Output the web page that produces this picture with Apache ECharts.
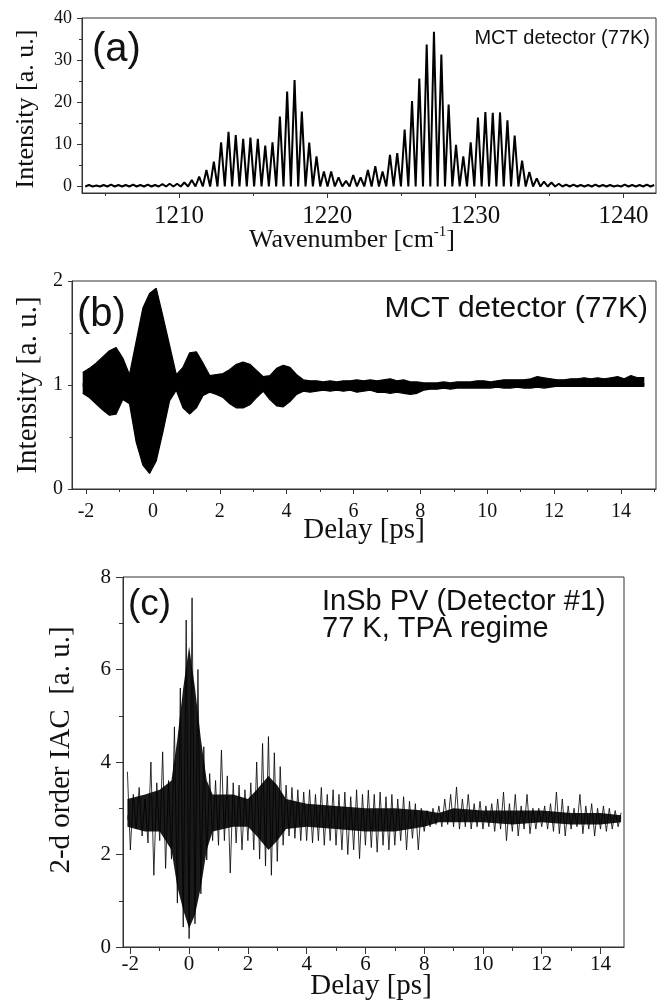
<!DOCTYPE html>
<html>
<head>
<meta charset="utf-8">
<script src="https://cdn.jsdelivr.net/npm/echarts@6/dist/echarts.min.js"></script>
<style>html,body{margin:0;padding:0;background:#fff}#c{width:663px;height:1008px}</style>
</head>
<body>
<div id="c"></div>
<script>
// ---------- Panel (a): spectrum comb (peak wavenumbers and peak heights) ----------
const peakWavenumbers = [
  1203.92,1204.42,1204.91,1205.41,1205.91,1206.40,1206.90,1207.39,1207.89,1208.38,1208.88,1209.37,1209.87,1210.36,
  1210.86,1211.36,1211.85,1212.35,1212.84,1213.34,1213.83,1214.33,1214.82,1215.32,1215.82,1216.31,1216.81,1217.30,
  1217.80,1218.29,1218.79,1219.28,1219.78,1220.27,1220.77,1221.27,1221.76,1222.26,1222.75,1223.25,1223.74,1224.24,
  1224.73,1225.23,1225.73,1226.22,1226.72,1227.21,1227.71,1228.20,1228.70,1229.19,1229.69,1230.18,1230.68,1231.18,
  1231.67,1232.17,1232.66,1233.16,1233.65,1234.15,1234.64,1235.14,1235.64,1236.13,1236.63,1237.12,1237.62,1238.11,
  1238.61,1239.10,1239.60,1240.09,1240.59,1241.09,1241.58,1242.08
];
const peakHeights = [
  0.2,0.1,0.2,0.3,0.2,0.2,0.3,0.2,0.3,0.2,0.4,0.5,0.5,0.8,
  1.4,2.2,3.8,5.8,10.4,12.9,12.1,11.2,11.5,11.2,9.6,10.4,16.5,22.5,25.2,17.7,10.3,7.0,3.4,3.4,
  2.0,1.2,2.6,2.0,3.8,4.7,3.4,7.4,7.8,13.4,20.2,25.6,33.7,36.7,31.3,19.4,9.8,7.0,10.4,16.3,17.6,17.4,17.5,15.6,12.0,6.0,3.3,1.8,1.0,0.8,
  0.5,0.3,0.3,0.2,0.2,0.3,0.2,0.2,0.1,0.3,0.2,0.2,0.3,0.2
];
const troughLevel = -0.15;
const aXTicks = [1210,1220,1230,1240], aXMinor = [1205,1215,1225,1235];
const aYTicks = [0,10,20,30,40], aYMinor = [5,15,25,35];

// ---------- Panel (b): interferogram envelope, read every 0.2 ps from -2.1 ps ----------
const bEnvStart = -2.1, bEnvStep = 0.2;
const bUpper = [
  1.12,1.16,1.21,1.27,1.33, 1.36,1.26,1.10,1.42,1.74, 1.88,1.93,1.66,1.38,1.10,
  1.17,1.31,1.32,1.21,1.09, 1.10,1.11,1.15,1.20,1.22, 1.20,1.14,1.08,1.09,1.16,
  1.19,1.17,1.10,1.05,1.04, 1.04,1.03,1.04,1.03,1.04, 1.04,1.05,1.04,1.05,1.04,
  1.05,1.06,1.04,1.05,1.03, 1.03,1.02,1.02,1.02,1.03, 1.02,1.03,1.03,1.03,1.04,
  1.04,1.03,1.04,1.05,1.05, 1.05,1.05,1.06,1.08,1.07, 1.06,1.05,1.05,1.06,1.06,
  1.07,1.06,1.07,1.06,1.07, 1.08,1.06,1.09,1.07,1.07
];
const bLower = [
  0.92,0.88,0.82,0.76,0.71, 0.72,0.86,0.82,0.45,0.23, 0.15,0.27,0.55,0.85,0.95,
  0.78,0.72,0.78,0.90,0.93, 0.91,0.88,0.82,0.78,0.78, 0.81,0.88,0.94,0.86,0.80,
  0.79,0.84,0.91,0.94,0.93, 0.94,0.95,0.94,0.95,0.94, 0.95,0.93,0.94,0.95,0.93,
  0.93,0.92,0.93,0.92,0.91, 0.92,0.95,0.96,0.96,0.97, 0.96,0.97,0.97,0.97,0.97,
  0.97,0.97,0.98,0.97,0.97, 0.98,0.97,0.97,0.98,0.97, 0.98,0.99,0.99,0.99,0.99,
  0.99,1.00,0.99,0.99,1.00, 1.00,0.99,1.00,1.00,1.00
];
const bXTicks = [-2,0,2,4,6,8,10,12,14], bXMinor = [-1,1,3,5,7,9,11,13,15];
const bYTicks = [0,1,2], bYMinor = [0.5,1.5];

// ---------- Panel (c): 2nd-order IAC, alternating crest/trough read every 0.1 ps ----------
const cStart = -2.1, cStep = 0.1;
const cSignal = [
  3.79,2.10,3.30,2.55,3.45,2.40,3.20,2.25,4.00,1.55,
  3.55,2.30,4.22,1.70,3.60,1.90,4.76,0.95,5.60,0.43,
  7.07,0.18,7.55,0.50,6.00,1.15,4.33,1.88,3.75,2.30,
  3.60,2.20,4.26,2.30,3.70,1.60,3.55,2.25,3.50,2.10,
  3.40,2.30,3.55,2.10,4.00,1.90,4.40,1.75,4.55,1.55,
  4.20,1.85,3.90,2.20,3.50,2.40,3.45,2.35,3.40,2.30,
  3.35,2.30,3.40,2.25,3.30,2.30,3.45,2.20,3.30,2.30,
  3.40,2.20,3.30,2.10,3.35,2.00,3.25,2.10,3.40,1.91,
  3.30,2.20,3.39,2.15,3.30,2.05,3.35,2.20,3.25,2.10,
  3.30,2.20,3.20,2.30,3.25,2.10,3.15,2.35,3.10,2.10,
  3.00,2.50,2.95,2.60,3.00,2.65,3.05,2.60,3.20,2.65,
  3.30,2.60,3.46,2.55,3.20,2.60,3.30,2.55,3.10,2.60,
  3.15,2.55,3.05,2.60,3.10,2.50,3.20,2.55,3.35,2.30,
  3.10,2.50,3.30,2.40,3.05,2.55,3.30,2.45,3.00,2.55,
  3.00,2.60,3.05,2.55,3.10,2.50,3.35,2.45,3.20,2.40,
  3.05,2.55,3.00,2.60,3.30,2.45,3.05,2.55,3.10,2.40,
  3.00,2.55,3.05,2.50,3.00,2.55,2.95,2.60,2.90
];
// dense dark core of the IAC trace
const cCoreDelays = [-2.1,-1.5,-1.0,-0.6,-0.4,-0.2,0,0.2,0.4,0.6,0.8,1.5,2.0,2.3,2.7,3.0,3.3,4,5,6,7,8,8.5,9,10,11,12,13,14,14.7];
const cCoreUpper  = [3.2,3.3,3.4,3.6,4.5,5.6,6.5,5.6,4.5,3.6,3.3,3.3,3.2,3.4,3.7,3.5,3.2,3.1,3.05,3.0,3.0,2.95,2.9,3.0,2.95,2.95,2.95,2.9,2.9,2.85];
const cCoreLower  = [2.6,2.5,2.5,2.1,1.3,0.8,0.4,0.7,1.3,2.1,2.5,2.6,2.6,2.4,2.1,2.3,2.55,2.6,2.55,2.5,2.5,2.6,2.7,2.7,2.7,2.65,2.7,2.65,2.65,2.7];
const cXTicks = [-2,0,2,4,6,8,10,12,14], cXMinor = [-1,1,3,5,7,9,11,13];
const cYTicks = [0,2,4,6,8], cYMinor = [1,3,5,7];

// fill origins (slightly overlapping so the two halves of each band join without a seam)
const bUpperOrigin = 0.98, bLowerOrigin = 1.02;
const cUpperOrigin = 2.75, cLowerOrigin = 2.85;

// ---------- build series data ----------
const aData = [];
peakWavenumbers.forEach((w, i) => {
  if (i === 0) aData.push([w - (peakWavenumbers[1] - w) / 2, troughLevel]);
  aData.push([w, peakHeights[i]]);
  if (i < peakWavenumbers.length - 1) aData.push([(w + peakWavenumbers[i + 1]) / 2, troughLevel]);
});
const bT = bUpper.map((_, j) => +(bEnvStart + bEnvStep * j).toFixed(2));
const bUpData = bUpper.map((v, j) => [bT[j], v]);
const bLowData = bLower.map((v, j) => [bT[j], v]);
const cT = cSignal.map((_, k) => +(cStart + cStep * k).toFixed(2));
const cData = cSignal.map((v, k) => [cT[k], v]);
const cCoreUpData = cCoreUpper.map((v, j) => [cCoreDelays[j], v]);
const cCoreLowData = cCoreLower.map((v, j) => [cCoreDelays[j], v]);

const SERIF = 'Liberation Serif';
const AX = '#333';
const fmt = v => String(v);

function xAxes(g, min, max, major, minor, fs, margin, lenMaj, lenMin) {
  return [
    { type: 'value', gridIndex: g, min, max, position: 'bottom', z: 5,
      axisLine: { show: true, onZero: false, lineStyle: { color: AX, width: 1 } },
      axisTick: { show: true, customValues: major, length: lenMaj, lineStyle: { color: AX } },
      axisLabel: { customValues: major, formatter: fmt, fontSize: fs, margin, color: '#111', fontFamily: SERIF },
      splitLine: { show: false } },
    { type: 'value', gridIndex: g, min, max, position: 'bottom', offset: 0, z: 5,
      axisLine: { show: false, onZero: false },
      axisTick: { show: true, customValues: minor, length: lenMin, lineStyle: { color: AX } },
      axisLabel: { show: false }, splitLine: { show: false } }
  ];
}
function yAxes(g, min, max, major, minor, fs, margin, lenMaj, lenMin) {
  return [
    { type: 'value', gridIndex: g, min, max, position: 'left', z: 5,
      axisLine: { show: true, onZero: false, lineStyle: { color: AX, width: 1 } },
      axisTick: { show: true, customValues: major, length: lenMaj, lineStyle: { color: AX } },
      axisLabel: { customValues: major, formatter: fmt, fontSize: fs, margin, color: '#111', fontFamily: SERIF },
      splitLine: { show: false } },
    { type: 'value', gridIndex: g, min, max, position: 'left', offset: 0, z: 5,
      axisLine: { show: false, onZero: false },
      axisTick: { show: true, customValues: minor, length: lenMin, lineStyle: { color: AX } },
      axisLabel: { show: false }, splitLine: { show: false } }
  ];
}

function txt(x, y, text, font, align, rot) {
  return { type: 'text', x, y, rotation: rot || 0, silent: true, z: 10,
    style: { text, font, fill: '#111', textAlign: align || 'center', textVerticalAlign: 'middle' } };
}

const chart = echarts.init(document.getElementById('c'), null, { renderer: 'canvas' });
chart.setOption({
  animation: false,
  backgroundColor: '#fff',
  grid: [
    { left: 82, top: 18, width: 574, height: 175, show: true, borderColor: AX, borderWidth: 1 },
    { left: 72, top: 281, width: 584, height: 208, show: true, borderColor: AX, borderWidth: 1 },
    { left: 123, top: 577, width: 501, height: 370, show: true, borderColor: AX, borderWidth: 1 }
  ],
  xAxis: [
    ...xAxes(0, 1203.45, 1242.2, aXTicks, aXMinor, 25, 11, 5, 3),
    ...xAxes(1, -2.42, 15.05, bXTicks, bXMinor, 20, 13, 5, 3),
    ...xAxes(2, -2.25, 14.8, cXTicks, cXMinor, 21, 7, 7, 4)
  ],
  yAxis: [
    ...yAxes(0, -1.7, 40, aYTicks, aYMinor, 18, 10, 5, 3),
    ...yAxes(1, 0, 2, bYTicks, bYMinor, 20, 9, 4, 2.5),
    ...yAxes(2, 0, 8, cYTicks, cYMinor, 21, 12, 7, 4)
  ],
  series: [
    { type: 'line', xAxisIndex: 0, yAxisIndex: 0, data: aData, showSymbol: false, silent: true,
      lineStyle: { color: '#000', width: 2 } },
    // (b): envelope filled towards the baseline from both sides
    { type: 'line', xAxisIndex: 2, yAxisIndex: 2, data: bUpData, showSymbol: false, silent: true,
      lineStyle: { color: '#000', width: 1.2 }, areaStyle: { color: '#000', opacity: 1, origin: bUpperOrigin } },
    { type: 'line', xAxisIndex: 2, yAxisIndex: 2, data: bLowData, showSymbol: false, silent: true,
      lineStyle: { color: '#000', width: 1.2 }, areaStyle: { color: '#000', opacity: 1, origin: bLowerOrigin } },
    // (c): dark core band, then the crest/trough trace
    { type: 'line', xAxisIndex: 4, yAxisIndex: 4, data: cCoreUpData, showSymbol: false, silent: true,
      lineStyle: { opacity: 0 }, areaStyle: { color: '#1a1a1a', opacity: 1, origin: cUpperOrigin } },
    { type: 'line', xAxisIndex: 4, yAxisIndex: 4, data: cCoreLowData, showSymbol: false, silent: true,
      lineStyle: { opacity: 0 }, areaStyle: { color: '#1a1a1a', opacity: 1, origin: cLowerOrigin } },
    { type: 'line', xAxisIndex: 4, yAxisIndex: 4, data: cData, showSymbol: false, silent: true,
      lineStyle: { color: '#000', width: 0.8 } }
  ],
  graphic: [
    txt(26, 109, 'Intensity [a. u.]', '26px "Liberation Serif"', 'center', Math.PI / 2),
    { type: 'text', x: 352, y: 240, silent: true, z: 10,
      style: { text: '{m|Wavenumber [cm}{s|-1}{m|]}', fill: '#111', textAlign: 'center', textVerticalAlign: 'middle',
        rich: { m: { fontSize: 26, fontFamily: SERIF, lineHeight: 30 },
                s: { fontSize: 15, fontFamily: SERIF, lineHeight: 14, verticalAlign: 'top' } } } },
    txt(92, 50, '(a)', '40px "Liberation Sans"', 'left'),
    txt(650, 38, 'MCT detector (77K)', '20px "Liberation Sans"', 'right'),

    txt(28, 385, 'Intensity [a. u.]', '29px "Liberation Serif"', 'center', Math.PI / 2),
    txt(364, 530, 'Delay [ps]', '29px "Liberation Serif"', 'center'),
    txt(77, 315, '(b)', '40px "Liberation Sans"', 'left'),
    txt(648, 309, 'MCT detector (77K)', '30px "Liberation Sans"', 'right'),

    txt(61, 750, '2-d order IAC  [a. u.]', '29px "Liberation Serif"', 'center', Math.PI / 2),
    txt(371, 986, 'Delay [ps]', '29px "Liberation Serif"', 'center'),
    txt(128, 605, '(c)', '37px "Liberation Sans"', 'left'),
    txt(322, 602, 'InSb PV (Detector #1)', '29px "Liberation Sans"', 'left'),
    txt(322, 629, '77 K, TPA regime', '29px "Liberation Sans"', 'left')
  ]
});
</script>
</body>
</html>
